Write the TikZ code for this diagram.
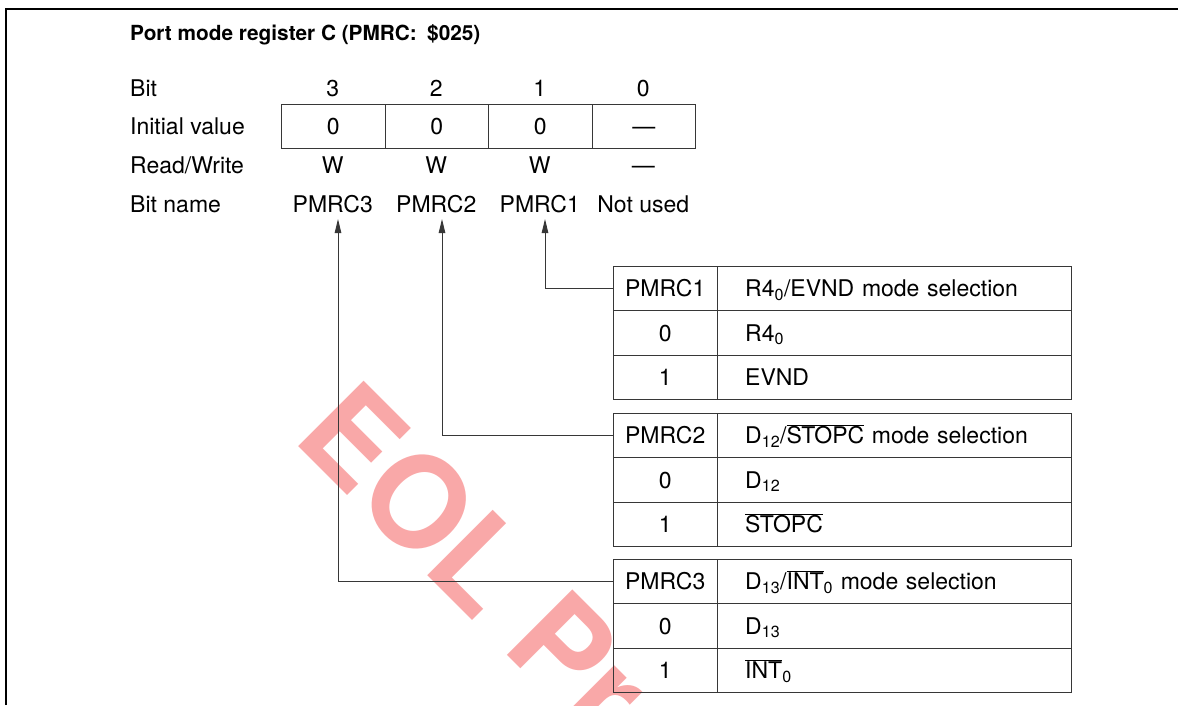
\documentclass[tikz,border=0pt]{standalone}
\usepackage{fontspec}
\setmainfont{TeX Gyre Heros}
\usetikzlibrary{arrows.meta}
\definecolor{wm}{RGB}{249,168,168}
\definecolor{ln}{RGB}{55,55,55}
\begin{document}
\begin{tikzpicture}[x=1pt,y=-1pt,
  fnt/.style={font=\fontsize{23}{27}\selectfont},
  txt/.style={fnt, inner sep=0pt, anchor=base},
  txtl/.style={txt, anchor=base west},
  cell/.style={fnt, draw=ln, line width=1pt, inner sep=0pt, anchor=north west,
    minimum height=44.5pt, text height=16.5pt, text depth=0pt},
  cellA/.style={cell, minimum width=104pt},
  cellB/.style={cell, minimum width=354.3pt, text width=298.3pt, align=left},
  regcell/.style={cell, minimum width=103.5pt},
  arr/.style={draw=ln, line width=1pt, -{Triangle[length=14pt,width=6.5pt]}},
  wmstyle/.style={inner sep=0pt, anchor=base west, rotate=-45, text=wm,
    font=\bfseries\fontsize{127}{127}\selectfont},
]
\useasboundingbox (0,0) rectangle (1178,705);
% watermark
\node[wmstyle] (wmark) at (291,439) {EOL Pr};
% frame
\draw[line width=2pt] (6.3,705) -- (6.3,9.3) -- (1178,9.3);
% title
\node[txtl, font=\bfseries\fontsize{20.8}{25}\selectfont] (title) at (130,40) {Port mode register C (PMRC:\enspace\$025)};
% row labels
\node[txtl] (lbit)  at (130,96.5)  {Bit};
\node[txtl] (linit) at (130,134.5) {Initial value};
\node[txtl] (lrw)   at (130,173)   {Read/Write};
\node[txtl] (lname) at (130,212)   {Bit name};
% bit numbers
\node[txt] (b3) at (332.75,96.5) {3};
\node[txt] (b2) at (436.25,96.5) {2};
\node[txt] (b1) at (539.75,96.5) {1};
\node[txt] (b0) at (643.25,96.5) {0};
% register cells
\node[regcell] (r3) at (281,103.5)   {0};
\node[regcell] (r2) at (384.5,103.5) {0};
\node[regcell] (r1) at (488,103.5)   {0};
\node[regcell] (r0) at (591.5,103.5) {—};
% read/write
\node[txt] (w3) at (332.75,173) {W};
\node[txt] (w2) at (436.25,173) {W};
\node[txt] (w1) at (539.75,173) {W};
\node[txt] (w0) at (643.25,173) {—};
% bit names
\node[txt] (n3) at (332.75,212) {PMRC3};
\node[txt] (n2) at (436.25,212) {PMRC2};
\node[txt] (n1) at (539.75,212) {PMRC1};
\node[txt] (n0) at (643.25,212) {Not used};
% arrow tips
\coordinate (a3) at (338,219);
\coordinate (a2) at (442,219);
\coordinate (a1) at (545,219);
% table 1
\node[cellA] (t1h) at (612.7,265.5) {PMRC1};
\node[cellB] (t1H) at (716.7,265.5) {R4\textsubscript{0}/EVND mode selection};
\node[cellA] (t1a) at (612.7,310)   {0};
\node[cellB] (t1A) at (716.7,310)   {R4\textsubscript{0}};
\node[cellA] (t1b) at (612.7,354.5) {1};
\node[cellB] (t1B) at (716.7,354.5) {EVND};
% table 2
\node[cellA] (t2h) at (612.7,412.5) {PMRC2};
\node[cellB] (t2H) at (716.7,412.5) {D\textsubscript{12}/$\overline{\mbox{STOPC}}$ mode selection};
\node[cellA] (t2a) at (612.7,457)   {0};
\node[cellB] (t2A) at (716.7,457)   {D\textsubscript{12}};
\node[cellA] (t2b) at (612.7,501.5) {1};
\node[cellB] (t2B) at (716.7,501.5) {$\overline{\mbox{STOPC}}$};
% table 3
\node[cellA] (t3h) at (612.7,558.5) {PMRC3};
\node[cellB] (t3H) at (716.7,558.5) {D\textsubscript{13}/$\overline{\mbox{INT}}$\textsubscript{0} mode selection};
\node[cellA] (t3a) at (612.7,603)   {0};
\node[cellB] (t3A) at (716.7,603)   {D\textsubscript{13}};
\node[cellA] (t3b) at (612.7,647.5) {1};
\node[cellB] (t3B) at (716.7,647.5) {$\overline{\mbox{INT}}$\textsubscript{0}};
% connectors
\draw[arr] (t1h.west) -| (a1);
\draw[arr] (t2h.west) -| (a2);
\draw[arr] (t3h.west) -| (a3);
\end{tikzpicture}
\end{document}
